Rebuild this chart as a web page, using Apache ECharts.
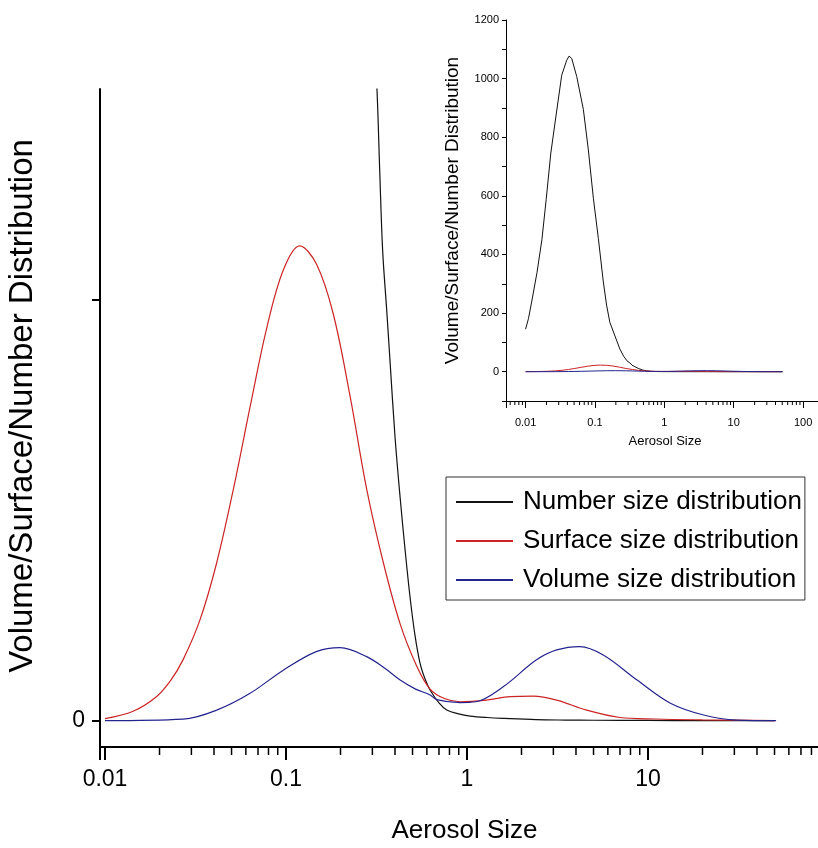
<!DOCTYPE html>
<html>
<head>
<meta charset="utf-8">
<title>Aerosol size distribution</title>
<script src="https://cdn.jsdelivr.net/npm/echarts@6/dist/echarts.min.js"></script>
<style>
    html, body { margin: 0; padding: 0; background: #fff; }
    #size-distribution-echarts { width: 818px; height: 848px; }
</style>
</head>
<body>
<div id="size-distribution-echarts"></div>
<script>
var seriesNames = ['Number size distribution', 'Surface size distribution', 'Volume size distribution'];

var numberX = [0.01, 0.011, 0.0123, 0.0146, 0.0172, 0.0198, 0.0231, 0.0282, 0.0332, 0.0392, 0.0424, 0.0462, 0.0546, 0.068, 0.08, 0.095, 0.112, 0.132, 0.147, 0.164, 0.194, 0.229, 0.26, 0.29, 0.318, 0.33, 0.342, 0.36, 0.376, 0.4, 0.427, 0.455, 0.484, 0.515, 0.55, 0.585, 0.625, 0.7, 0.773, 0.9, 1.04, 1.3, 1.6, 2.4, 3.5, 5, 10, 20, 50];
var numberY = [145, 181, 241, 338, 451, 587, 746, 893, 1012, 1063, 1077, 1069, 1007, 895, 760, 590, 454, 306, 227, 168, 122, 77, 52, 37, 30, 25.9, 22.3, 19.5, 17, 13.5, 10.6, 8.1, 5.9, 4.1, 2.73, 2.0, 1.46, 0.85, 0.51, 0.32, 0.22, 0.15, 0.11, 0.05, 0.03, 0.02, 0.01, 0, 0];

var surfaceX = [0.01, 0.0143, 0.0193, 0.023, 0.027, 0.0335, 0.0414, 0.0512, 0.0633, 0.078, 0.0966, 0.119, 0.147, 0.182, 0.226, 0.279, 0.345, 0.427, 0.527, 0.625, 0.75, 0.914, 1.28, 1.73, 2.32, 3.13, 4.58, 7, 11, 20, 50];
var surfaceY = [0.1, 0.45, 1.15, 1.9, 2.9, 4.8, 7.5, 11.0, 14.9, 18.6, 21.4, 22.55, 21.7, 19.35, 15.4, 11.0, 7.5, 4.6, 2.6, 1.5, 1.05, 0.9, 0.98, 1.14, 1.17, 0.98, 0.5, 0.15, 0.08, 0.04, 0];

var volumeX = [0.01, 0.027, 0.0414, 0.0633, 0.0966, 0.147, 0.199, 0.279, 0.35, 0.427, 0.52, 0.625, 0.68, 0.914, 1.12, 1.59, 2.41, 3.13, 4.2, 5.66, 8.7, 13.3, 20.3, 30.9, 51];
var volumeY = [0, 0.07, 0.5, 1.3, 2.4, 3.28, 3.47, 3.04, 2.5, 1.93, 1.5, 1.22, 1.0, 0.86, 0.9, 1.62, 2.88, 3.36, 3.52, 3.12, 1.93, 0.83, 0.27, 0.03, 0];

// decade labels, index 0 is 0.01
var mainTickLabels = ['0.01', '0.1', '1', '10'];
var insetTickLabels = ['0.01', '0.1', '1', '10', '100'];
var mainMinorTicks = [0.02, 0.03, 0.04, 0.05, 0.06, 0.07, 0.08, 0.09, 0.2, 0.3, 0.4, 0.5, 0.6, 0.7, 0.8, 0.9, 2, 3, 4, 5, 6, 7, 8, 9, 20, 30, 40, 50, 60, 70, 80];
var insetMinorTicks = [0.006, 0.007, 0.008, 0.009, 0.02, 0.03, 0.04, 0.05, 0.06, 0.07, 0.08, 0.09, 0.2, 0.3, 0.4, 0.5, 0.6, 0.7, 0.8, 0.9, 2, 3, 4, 5, 6, 7, 8, 9, 20, 30, 40, 50, 60, 70, 80, 90];
var mainYTicks = [0, 20];
var mainYLabels = [0];

var FONT = 'Liberation Sans, Arial, sans-serif';
var MAIN_YMIN = -1.25, MAIN_YMAX = 30;
var INSET_YMIN = -100, INSET_YMAX = 1200;

function pairs(xs, ys) {
    var out = [];
    for (var i = 0; i < xs.length; i++) out.push([xs[i], ys[i]]);
    return out;
}

function decadeFormatter(labels) {
    return function (v) {
        var l = Math.log(v) / Math.LN10;
        var k = Math.round(l);
        if (Math.abs(l - k) > 1e-6) return '';
        return labels[k + 2] || '';
    };
}

function minorTickSeries(values, xIdx, yMin, len, width) {
    return {
        type: 'custom',
        xAxisIndex: xIdx,
        yAxisIndex: xIdx,
        silent: true,
        clip: false,
        data: values.map(function (v) { return [v, yMin]; }),
        renderItem: function (params, api) {
            var p = api.coord([api.value(0), api.value(1)]);
            return {
                type: 'line',
                shape: { x1: p[0], y1: p[1], x2: p[0], y2: p[1] + len },
                style: { stroke: '#000', lineWidth: width }
            };
        }
    };
}

function curve(name, xs, ys, color, idx) {
    return {
        name: name,
        type: 'line',
        xAxisIndex: idx,
        yAxisIndex: idx,
        data: pairs(xs, ys),
        symbol: 'none',
        smooth: idx === 0 ? 0.35 : false,
        lineStyle: { color: color, width: idx === 0 ? 1.2 : 1 },
        itemStyle: { color: color }
    };
}

function sizeDistributionEcharts() {
    var chart = echarts.init(document.getElementById('size-distribution-echarts'));
    var colors = ['#111111', '#cc2424', '#24248f'];

    var option = {
        animation: false,
        backgroundColor: '#fff',
        textStyle: { fontFamily: FONT, color: '#000' },
        legend: {
            data: seriesNames,
            orient: 'vertical',
            left: 446,
            top: 477,
            itemWidth: 57,
            itemHeight: 25,
            itemGap: 13,
            padding: [12, 3, 7, 9],
            borderColor: '#333',
            borderWidth: 1,
            selectedMode: false,
            itemStyle: { opacity: 0 },
            textStyle: { fontFamily: FONT, fontSize: 26, lineHeight: 25, color: '#000', padding: [0, 0, 0, 5] }
        },
        grid: [
            { left: 100, top: 89, right: -11, bottom: 101, outerBoundsMode: 'none' },
            { left: 506, top: 20, right: -6, bottom: 447, outerBoundsMode: 'none' }
        ],
        xAxis: [
            {
                type: 'log',
                gridIndex: 0,
                min: 0.00938,
                max: 100,
                name: 'Aerosol Size',
                nameLocation: 'middle',
                nameGap: 71,
                nameTextStyle: { fontFamily: FONT, fontSize: 26, color: '#000' },
                axisLine: { onZero: false, lineStyle: { color: '#000', width: 2 } },
                axisTick: { inside: false, length: 13, lineStyle: { color: '#000', width: 2 } },
                axisLabel: { margin: 21, fontSize: 23, color: '#000', fontFamily: FONT, formatter: decadeFormatter(mainTickLabels) },
                splitLine: { show: false }
            },
            {
                type: 'log',
                gridIndex: 1,
                min: 0.00522,
                max: 200,
                name: 'Aerosol Size',
                nameLocation: 'middle',
                nameGap: 34,
                nameTextStyle: { fontFamily: FONT, fontSize: 13, color: '#000' },
                axisLine: { onZero: false, lineStyle: { color: '#000', width: 1 } },
                axisTick: { inside: false, length: 7, lineStyle: { color: '#000', width: 1 } },
                axisLabel: { margin: 16, fontSize: 11, color: '#000', fontFamily: FONT, formatter: decadeFormatter(insetTickLabels) },
                splitLine: { show: false }
            }
        ],
        yAxis: [
            {
                type: 'value',
                gridIndex: 0,
                min: MAIN_YMIN,
                max: MAIN_YMAX,
                name: 'Volume/Surface/Number Distribution',
                nameLocation: 'middle',
                nameGap: 61,
                nameTextStyle: { fontFamily: FONT, fontSize: 33, color: '#000', padding: [0, 0, 0, 24] },
                axisLine: { show: true, onZero: false, lineStyle: { color: '#000', width: 2 } },
                axisTick: { show: true, length: 8, customValues: mainYTicks, lineStyle: { color: '#000', width: 2 } },
                axisLabel: { margin: 15, fontSize: 23, color: '#000', fontFamily: FONT, customValues: mainYLabels },
                splitLine: { show: false }
            },
            {
                type: 'value',
                gridIndex: 1,
                min: INSET_YMIN,
                max: INSET_YMAX,
                interval: 100,
                name: 'Volume/Surface/Number Distribution',
                nameLocation: 'middle',
                nameGap: 44,
                nameTextStyle: { fontFamily: FONT, fontSize: 19, color: '#000' },
                axisLine: { show: true, onZero: false, lineStyle: { color: '#000', width: 1 } },
                axisTick: { show: true, length: 4, lineStyle: { color: '#000', width: 1 } },
                axisLabel: {
                    margin: 7, fontSize: 11, color: '#000', fontFamily: FONT,
                    formatter: function (v) { return (v >= 0 && v % 200 === 0) ? String(v) : ''; }
                },
                splitLine: { show: false }
            }
        ],
        series: [
            curve(seriesNames[0], numberX, numberY, colors[0], 0),
            curve(seriesNames[1], surfaceX, surfaceY, colors[1], 0),
            curve(seriesNames[2], volumeX, volumeY, colors[2], 0),
            curve(seriesNames[0], numberX, numberY, colors[0], 1),
            curve(seriesNames[1], surfaceX, surfaceY, colors[1], 1),
            curve(seriesNames[2], volumeX, volumeY, colors[2], 1),
            minorTickSeries(mainMinorTicks, 0, MAIN_YMIN, 8, 1.5),
            minorTickSeries(insetMinorTicks, 1, INSET_YMIN, 4, 1)
        ]
    };

    chart.setOption(option);
}

sizeDistributionEcharts();
</script>
</body>
</html>
